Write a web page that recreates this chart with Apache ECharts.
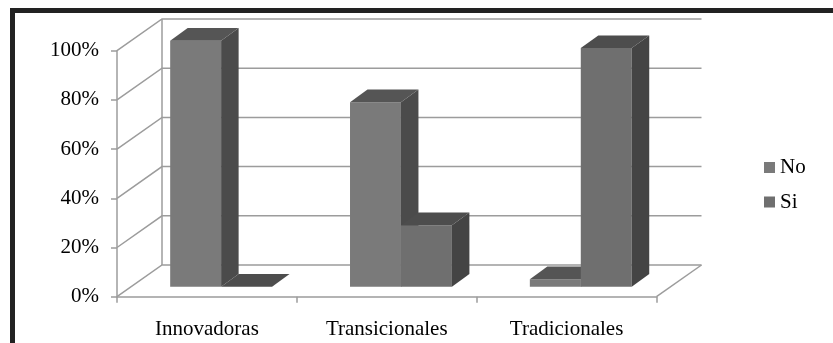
<!DOCTYPE html>
<html>
<head>
<meta charset="utf-8">
<script src="https://cdn.jsdelivr.net/npm/echarts@6/dist/echarts.min.js"></script>
<style>
html,body{margin:0;padding:0;background:#fff;}
#c{width:833px;height:343px;}
</style>
</head>
<body>
<div id="c"></div>
<script>
var categories = ['Innovadoras', 'Transicionales', 'Tradicionales'];
var seriesNames = ['No', 'Si'];
var noValues = [100, 75, 3];
var siValues = [0, 25, 97];
var yTicks = [0, 20, 40, 60, 80, 100];

var FONT = "'Liberation Serif','Times New Roman',serif";
var GRID_COLOR = '#9c9c9c';
// depth of the 3D box (walls) and of the bars
var WALL_DX = 45, WALL_DY = -31.7;
var BAR_DX = 17.5, BAR_DY = -12.7;
var BAR_OFF_Y = -10;

var faceColors = [
  {front: '#7a7a7a', top: '#555555', side: '#4b4b4b'},
  {front: '#6f6f6f', top: '#4d4d4d', side: '#444444'}
];

function wallRender(params, api) {
  var cs = params.coordSys;
  var v = api.value(0);
  var y = api.coord([0, v])[1];
  var left = cs.x, right = cs.x + cs.width;
  var style = {stroke: GRID_COLOR, lineWidth: 1.5, fill: null};
  var children = [{
    type: 'polyline',
    shape: {points: [[left, y], [left + WALL_DX, y + WALL_DY], [right + WALL_DX, y + WALL_DY]]},
    style: style
  }];
  if (params.dataIndex === 0) {
    var yTop = api.coord([0, yTicks[yTicks.length - 1]])[1];
    children.push({
      type: 'line',
      shape: {x1: left + WALL_DX, y1: yTop + WALL_DY, x2: left + WALL_DX, y2: y + WALL_DY},
      style: style
    });
    children.push({
      type: 'line',
      shape: {x1: right, y1: y, x2: right + WALL_DX, y2: y + WALL_DY},
      style: style
    });
  }
  return {type: 'group', children: children};
}

function makeBarRender(s) {
  return function (params, api) {
    var i = api.value(0);
    var v = api.value(1);
    var band = api.size([1, 0])[0];
    var bw = band * 0.2833;
    var off = band * 0.079;
    var base = api.coord([i, 0]);
    var topPt = api.coord([i, v]);
    var xl = base[0] + off + (s - 1) * bw;
    var xr = xl + bw;
    var yb = base[1] + BAR_OFF_Y;
    var yt = topPt[1] + BAR_OFF_Y;
    var c = faceColors[s];
    return {
      type: 'group',
      children: [
        {type: 'rect', shape: {x: xl, y: yt, width: bw, height: Math.max(yb - yt, 0.01)}, style: {fill: c.front}},
        {type: 'polygon', shape: {points: [[xr, yt], [xr + BAR_DX, yt + BAR_DY], [xr + BAR_DX, yb + BAR_DY], [xr, yb]]}, style: {fill: c.side}},
        {type: 'polygon', shape: {points: [[xl, yt], [xl + BAR_DX, yt + BAR_DY], [xr + BAR_DX, yt + BAR_DY], [xr, yt]]}, style: {fill: c.top}}
      ]
    };
  };
}

var chart = echarts.init(document.getElementById('c'), null, {renderer: 'canvas'});
chart.setOption({
  animation: false,
  backgroundColor: '#fff',
  grid: {left: 117, right: 176.5, top: 50.7, bottom: 46.3, containLabel: false},
  legend: {
    orient: 'vertical',
    left: 759,
    top: 152,
    itemWidth: 11,
    itemHeight: 11,
    itemGap: 13.5,
    icon: 'rect',
    data: seriesNames,
    textStyle: {fontFamily: FONT, fontSize: 21, lineHeight: 21, color: '#000'}
  },
  graphic: [{
    type: 'polyline',
    shape: {points: [[12.5, 343], [12.5, 10.5], [833, 10.5]]},
    style: {stroke: '#222', lineWidth: 5, fill: null},
    silent: true
  }],
  xAxis: {
    type: 'category',
    data: categories,
    axisLine: {show: true, lineStyle: {color: GRID_COLOR, width: 1.5}},
    axisTick: {show: true, length: 6, lineStyle: {color: GRID_COLOR, width: 1.5}},
    axisLabel: {fontFamily: FONT, fontSize: 21, color: '#000', margin: 22}
  },
  yAxis: {
    type: 'value',
    min: 0,
    max: 100,
    interval: 20,
    axisLine: {show: true, lineStyle: {color: GRID_COLOR, width: 1.5}},
    axisTick: {show: true, length: 6, lineStyle: {color: GRID_COLOR, width: 1.5}},
    splitLine: {show: false},
    axisLabel: {formatter: '{value}%', fontFamily: FONT, fontSize: 21, color: '#000', margin: 18, padding: [4, 0, 0, 0]}
  },
  series: [
    {
      type: 'custom',
      name: 'walls',
      renderItem: wallRender,
      data: yTicks.map(function (v) { return [v]; }),
      encode: {y: 0},
      z: 1,
      silent: true
    },
    {
      type: 'custom',
      name: seriesNames[0],
      renderItem: makeBarRender(0),
      itemStyle: {color: '#7a7a7a'},
      data: noValues.map(function (v, i) { return [i, v]; }),
      encode: {x: 0, y: 1},
      z: 3
    },
    {
      type: 'custom',
      name: seriesNames[1],
      renderItem: makeBarRender(1),
      itemStyle: {color: '#6f6f6f'},
      data: siValues.map(function (v, i) { return [i, v]; }),
      encode: {x: 0, y: 1},
      z: 4
    }
  ]
});
</script>
</body>
</html>
